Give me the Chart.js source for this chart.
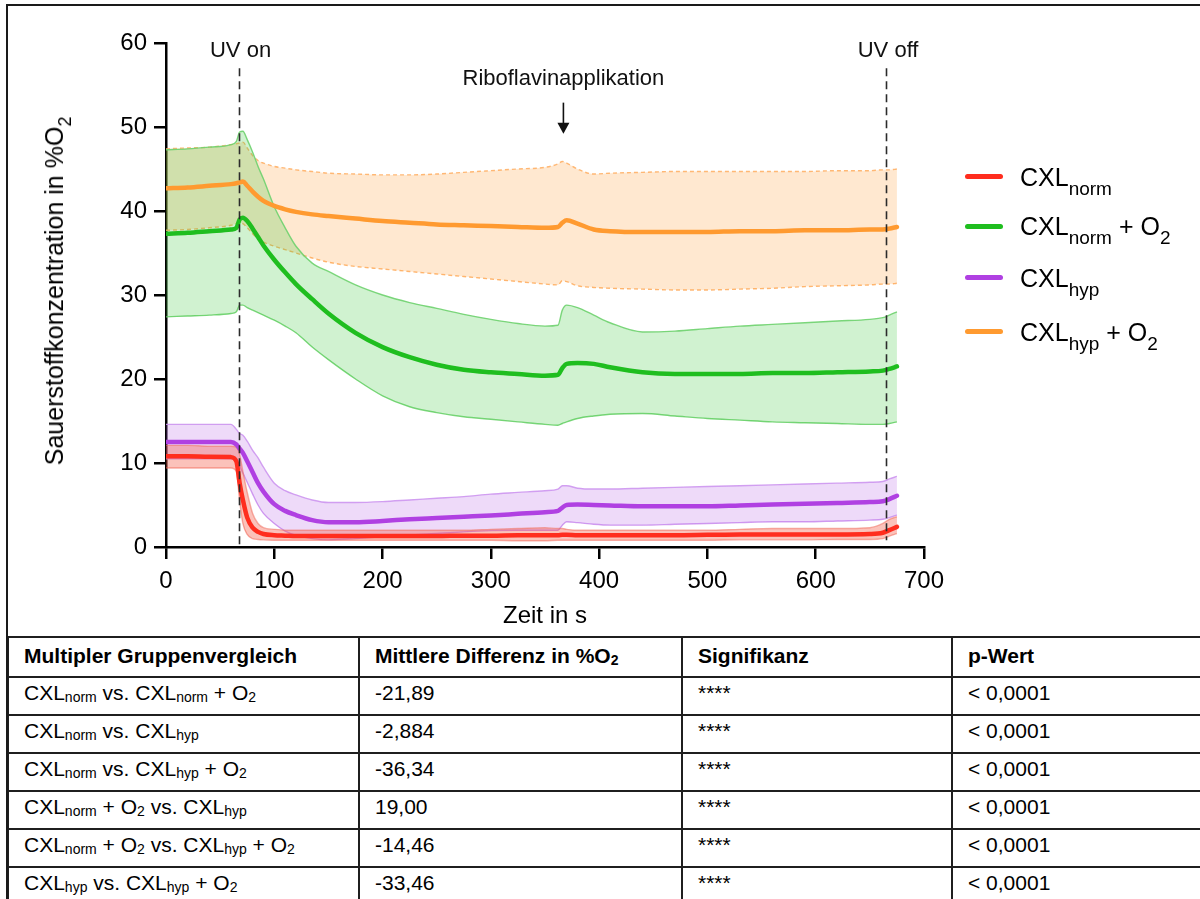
<!DOCTYPE html>
<html><head><meta charset="utf-8">
<script src="https://cdn.jsdelivr.net/npm/chart.js@4.4.1/dist/chart.umd.min.js"></script>
<style>
html,body{margin:0;padding:0;background:#fff;width:1200px;height:899px;overflow:hidden;font-family:"Liberation Sans",Arial,Helvetica,sans-serif;color:#000}
#c{position:absolute;left:0;top:0}
.frame{position:absolute;left:6px;top:4px;width:1300px;height:1000px;border-left:2px solid #1a1a1a;border-top:2px solid #1a1a1a;pointer-events:none;z-index:5}
#ytitle{position:absolute;left:56px;top:291px;transform:translate(-50%,-50%) rotate(-90deg);white-space:nowrap;font-size:25px;line-height:25px}
.sb{position:relative;font-size:18px;top:8px}
.leg{position:absolute;left:1020px;font-size:25px;line-height:25px;white-space:nowrap}
.leg .sb{font-size:19px;top:9px}
.sw{position:absolute;left:965px;width:38px;height:5px;border-radius:3px}
table{position:absolute;left:7px;top:636px;border-collapse:collapse;table-layout:fixed;font-size:21px}
td,th{border:2px solid #1f1f1f;padding:0 0 0 15px;text-align:left;vertical-align:top;line-height:21px;white-space:nowrap;overflow:hidden}
th{font-weight:bold;height:38px;padding-top:7px;box-sizing:border-box}
td{height:38px;padding-top:4px;box-sizing:border-box}
table .sb{font-size:14px;top:2px}
</style></head>
<body>
<canvas id="c" width="1200" height="636"></canvas>
<div class="frame"></div>
<div id="ytitle"></div>
<div id="legend"></div>
<table id="tbl"></table>
<script>
const FONT = '"Liberation Sans", Arial, Helvetica, sans-serif';

// ---- data ----
const times = [0,20,40,60,65,68,71,75,80,85,90,100,110,120,135,150,175,200,225,250,275,300,325,350,362,366,370,380,395,410,440,470,500,530,560,590,620,650,662,668,675];

const normMean  = [10.8,10.8,10.75,10.7,10.2,7.6,5.6,3.5,2.3,1.8,1.55,1.4,1.35,1.3,1.3,1.3,1.3,1.3,1.3,1.3,1.35,1.35,1.4,1.4,1.4,1.45,1.45,1.4,1.4,1.4,1.4,1.4,1.45,1.5,1.5,1.5,1.5,1.55,1.7,2.0,2.4];
const normUpper = [12.1,12.1,12.0,12.0,11.9,11.0,9.0,6.5,4.0,2.8,2.3,2.1,2.0,2.0,2.0,2.0,2.0,2.0,2.0,2.0,2.0,2.1,2.2,2.3,2.2,2.2,2.1,2.0,2.0,2.0,2.0,2.0,2.0,2.1,2.2,2.2,2.2,2.3,2.8,3.3,3.6];
const normLower = [9.4,9.4,9.4,9.4,9.0,5.5,2.8,1.5,1.0,0.9,0.85,0.8,0.8,0.8,0.8,0.8,0.8,0.8,0.8,0.8,0.8,0.8,0.75,0.75,0.8,0.8,0.8,0.8,0.8,0.8,0.8,0.8,0.8,0.85,0.85,0.85,0.9,0.9,1.0,1.3,1.6];

const hypMean  = [12.5,12.5,12.5,12.5,12.2,11.7,11.2,10.2,8.9,7.6,6.6,5.1,4.3,3.8,3.2,2.95,2.95,3.1,3.3,3.45,3.6,3.75,3.95,4.15,4.3,4.7,5.0,5.05,5.0,4.95,4.85,4.85,4.85,4.95,5.05,5.15,5.25,5.35,5.45,5.7,6.1];
const hypUpper = [14.6,14.6,14.6,14.6,14.0,13.5,13.3,12.6,11.5,10.6,9.5,7.6,6.7,6.2,5.6,5.3,5.3,5.4,5.6,5.8,6.0,6.3,6.5,6.7,6.9,7.3,7.3,7.0,6.9,6.9,7.0,7.1,7.2,7.3,7.4,7.5,7.6,7.7,7.8,8.1,8.4];
const hypLower = [10.5,10.5,10.5,10.5,10.2,9.6,8.8,7.7,6.3,5.0,4.0,2.8,1.9,1.4,1.0,0.85,1.0,1.2,1.45,1.6,1.8,1.95,2.0,2.0,2.0,2.6,3.0,2.9,2.7,2.6,2.6,2.7,2.8,2.9,3.0,3.0,3.1,3.2,3.3,3.5,3.8];

const normO2Mean  = [37.3,37.4,37.6,37.8,38.0,39.0,39.2,38.8,37.9,36.9,35.9,34.2,32.7,31.3,29.5,27.8,25.5,23.8,22.6,21.7,21.1,20.8,20.6,20.4,20.5,21.3,21.8,21.9,21.8,21.4,20.8,20.6,20.6,20.6,20.7,20.7,20.8,20.9,21.0,21.2,21.5];
const normO2Upper = [47.3,47.4,47.6,47.9,48.3,49.4,49.5,48.5,47.0,45.3,43.8,40.5,38.0,35.8,33.8,32.8,31.2,30.0,29.1,28.4,27.7,27.1,26.6,26.3,26.4,28.2,28.8,28.5,27.6,26.7,25.6,25.7,26.0,26.3,26.5,26.7,26.9,27.1,27.3,27.6,28.0];
const normO2Lower = [27.4,27.5,27.6,27.8,28.0,28.8,28.8,28.5,28.2,27.9,27.6,27.0,26.3,25.5,23.8,22.3,20.0,18.0,16.7,16.0,15.5,15.2,14.9,14.6,14.5,14.7,14.9,15.3,15.6,15.8,15.9,15.6,15.3,15.1,14.9,14.8,14.7,14.6,14.6,14.7,14.9];

const hypO2Mean  = [42.7,42.8,43.0,43.2,43.3,43.4,43.5,43.0,42.3,41.7,41.2,40.6,40.2,39.9,39.6,39.4,39.1,38.8,38.6,38.4,38.3,38.2,38.1,38.0,38.1,38.6,38.9,38.5,37.8,37.6,37.5,37.5,37.5,37.6,37.6,37.7,37.7,37.8,37.8,37.9,38.1];
const hypO2Upper = [47.4,47.5,47.6,47.9,48.0,48.1,48.2,47.5,46.6,46.0,45.7,45.3,45.1,44.9,44.7,44.5,44.4,44.3,44.3,44.4,44.6,44.8,45.0,45.2,45.6,45.9,45.7,45.0,44.4,44.5,44.6,44.7,44.7,44.7,44.7,44.7,44.8,44.8,44.9,44.9,45.0];
const hypO2Lower = [37.7,37.8,38.0,38.3,38.5,38.6,38.5,38.0,37.3,36.7,36.3,35.8,35.4,35.0,34.4,33.9,33.4,33.1,32.8,32.5,32.2,31.9,31.6,31.3,31.2,31.7,31.6,31.1,30.9,30.8,30.7,30.6,30.6,30.7,30.8,31.0,31.1,31.2,31.3,31.3,31.4];

const seriesLabels = ['CXL_norm', 'CXL_norm + O_2', 'CXL_hyp', 'CXL_hyp + O_2'];
const xTickValues = [0,100,200,300,400,500,600,700];
const yTickValues = [0,10,20,30,40,50,60];
const xTitle = 'Zeit in s';
const yTitle = 'Sauerstoffkonzentration in %O_2';
const uvTimes = [67, 665];
const uvLabels = ['UV on', 'UV off'];
const riboTime = 367;
const riboLabel = 'Riboflavinapplikation';

const tableHeader = ['Multipler Gruppenvergleich', 'Mittlere Differenz in %O_2', 'Signifikanz', 'p-Wert'];
const comparisons = ['CXL_norm vs. CXL_norm + O_2','CXL_norm vs. CXL_hyp','CXL_norm vs. CXL_hyp + O_2','CXL_norm + O_2 vs. CXL_hyp','CXL_norm + O_2 vs. CXL_hyp + O_2','CXL_hyp vs. CXL_hyp + O_2'];
const meanDiffs = ['-21,89','-2,884','-36,34','19,00','-14,46','-33,46'];
const significance = ['****','****','****','****','****','****'];
const pValues = ['< 0,0001','< 0,0001','< 0,0001','< 0,0001','< 0,0001','< 0,0001'];

// ---- styles ----
const styles = [
  {line:'#FF2D1E', fill:'rgba(243,85,65,0.36)', edge:'rgba(240,110,95,0.55)', dash:[]},
  {line:'#1FBE1F', fill:'rgba(60,200,60,0.24)', edge:'rgba(110,210,110,0.9)', dash:[]},
  {line:'#B040E2', fill:'rgba(178,85,228,0.22)', edge:'rgba(205,150,240,0.9)', dash:[]},
  {line:'#FF9A30', fill:'rgba(255,160,60,0.24)', edge:'rgba(255,180,110,0.95)', dash:[4,3]}
];
const bands = [[normMean,normUpper,normLower],[normO2Mean,normO2Upper,normO2Lower],[hypMean,hypUpper,hypLower],[hypO2Mean,hypO2Upper,hypO2Lower]];

function fmt(s){ return s.replace(/_(\w+)/g,'<span class="sb">$1</span>'); }
function pts(arr){ return times.map((t,i)=>({x:t,y:arr[i]})); }

const datasets = [];
bands.forEach((b,i)=>{
  const st = styles[i];
  datasets.push({label:seriesLabels[i], data:pts(b[0]), borderColor:st.line, borderWidth:4.5, pointRadius:0, fill:false, order:i, cubicInterpolationMode:'monotone', borderCapStyle:'round', borderJoinStyle:'round'});
});
bands.forEach((b,i)=>{
  const st = styles[i];
  datasets.push({label:seriesLabels[i]+' upper', data:pts(b[1]), borderColor:st.edge, borderWidth:1.4, borderDash:st.dash, backgroundColor:st.fill, pointRadius:0, fill:'+1', order:10+i, cubicInterpolationMode:'monotone'});
  datasets.push({label:seriesLabels[i]+' lower', data:pts(b[2]), borderColor:st.edge, borderWidth:1.4, borderDash:st.dash, pointRadius:0, fill:false, order:10+i, cubicInterpolationMode:'monotone'});
});

const annot = {
  id:'annot',
  afterDatasetsDraw(chart){
    const {ctx} = chart; const x = chart.scales.x, y = chart.scales.y;
    ctx.save();
    ctx.strokeStyle = '#2b2b2b'; ctx.lineWidth = 1.6; ctx.setLineDash([8,5]);
    uvTimes.forEach((t,i)=>{
      const px = Math.round(x.getPixelForValue(t))+0.5;
      ctx.beginPath(); ctx.moveTo(px, y.getPixelForValue(57)); ctx.lineTo(px, y.getPixelForValue(i===0?0:0.8)); ctx.stroke();
    });
    ctx.setLineDash([]);
    ctx.fillStyle = '#111'; ctx.font = '22px '+FONT; ctx.textAlign = 'center'; ctx.textBaseline = 'alphabetic';
    uvTimes.forEach((t,i)=>{ ctx.fillText(uvLabels[i], x.getPixelForValue(t)+2, y.getPixelForValue(58.3)); });
    const rx = x.getPixelForValue(riboTime);
    ctx.fillText(riboLabel, rx, y.getPixelForValue(55));
    const yTop = y.getPixelForValue(52.9), yTip = y.getPixelForValue(49.2);
    ctx.strokeStyle = '#111'; ctx.lineWidth = 1.6;
    ctx.beginPath(); ctx.moveTo(rx, yTop); ctx.lineTo(rx, yTip-8); ctx.stroke();
    ctx.beginPath(); ctx.moveTo(rx-6, yTip-11); ctx.lineTo(rx+6, yTip-11); ctx.lineTo(rx, yTip); ctx.closePath(); ctx.fill();
    ctx.restore();
  }
};

new Chart(document.getElementById('c'), {
  type:'line',
  data:{datasets},
  plugins:[annot],
  options:{
    responsive:false, animation:false, devicePixelRatio:1,
    layout:{padding:{left:0, top:43, right:276, bottom:0}},
    plugins:{legend:{display:false}, tooltip:{enabled:false}},
    scales:{
      x:{type:'linear', min:0, max:700,
        afterBuildTicks:s=>{ s.ticks = xTickValues.map(v=>({value:v})); },
        afterFit:s=>{ s.height = 89; },
        grid:{drawOnChartArea:false, drawTicks:true, tickLength:12, color:'#000', lineWidth:2.5},
        border:{display:true, color:'#000', width:2.5},
        ticks:{color:'#000', font:{family:FONT, size:24}, padding:8, maxRotation:0, autoSkip:false},
        title:{display:true, text:xTitle, color:'#000', font:{family:FONT, size:24}, padding:{top:0, bottom:5}}
      },
      y:{type:'linear', min:0, max:60,
        afterBuildTicks:s=>{ s.ticks = yTickValues.map(v=>({value:v})); },
        afterFit:s=>{ s.width = 166; },
        grid:{drawOnChartArea:false, drawTicks:true, tickLength:12, color:'#000', lineWidth:2.5},
        border:{display:true, color:'#000', width:2.5},
        ticks:{color:'#000', font:{family:FONT, size:24}, padding:7, autoSkip:false}
      }
    }
  }
});

// y title
document.getElementById('ytitle').innerHTML = fmt(yTitle);

// legend
const legCy = [176.7, 226, 277.7, 331.7];
const leg = document.getElementById('legend');
seriesLabels.forEach((l,i)=>{
  const sw = document.createElement('div'); sw.className='sw'; sw.style.top=(legCy[i]-2.5)+'px'; sw.style.background=styles[i].line; leg.appendChild(sw);
  const t = document.createElement('div'); t.className='leg'; t.style.top=(legCy[i]+9-21.2)+'px'; t.innerHTML=fmt(l); leg.appendChild(t);
});

// table
const colW = [351, 323, 270, 300];
let html = '<colgroup>'+colW.map(w=>'<col style="width:'+w+'px">').join('')+'</colgroup>';
html += '<tr style="height:40px">'+tableHeader.map(h=>'<th style="height:40px">'+fmt(h)+'</th>').join('')+'</tr>';
comparisons.forEach((c,i)=>{
  html += '<tr>'+[c, meanDiffs[i], significance[i], pValues[i]].map(v=>'<td>'+fmt(v)+'</td>').join('')+'</tr>';
});
const tbl = document.getElementById('tbl');
tbl.innerHTML = html;
tbl.style.width = colW.reduce((a,b)=>a+b,0)+'px';
</script>
</body></html>
